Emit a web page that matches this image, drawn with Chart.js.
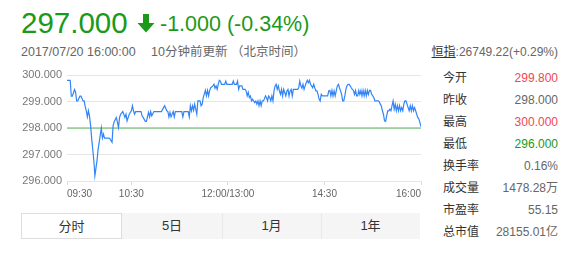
<!DOCTYPE html>
<html>
<head>
<meta charset="utf-8">
<script src="https://cdn.jsdelivr.net/npm/chart.js@4.4.0/dist/chart.umd.min.js"></script>
<style>
  html, body { margin: 0; padding: 0; background: #fff; width: 578px; height: 254px; overflow: hidden; }
  body { position: relative; font-family: "Liberation Sans", Arial, "Noto Sans CJK SC", sans-serif; }
  .t { position: absolute; white-space: nowrap; line-height: 1; }
  .price { left: 21px; top: 8px; font-size: 29.5px; color: #1a9a1a; }
  .chg { left: 160px; top: 14px; font-size: 21.5px; color: #1a9a1a; }
  .arrow { position: absolute; left: 137px; top: 14px; }
  .sub { top: 45.5px; font-size: 12.5px; color: #666; }
  .hsi { right: 20px; top: 46px; font-size: 12px; color: #666; }
  .hsi u { color: #333; text-decoration: underline; }
  .lab { left: 443px; font-size: 12px; color: #333; }
  .val { right: 20px; font-size: 12px; color: #666; }
  .red { color: #f0474f; }
  .grn { color: #1a9a1a; }
  #chartBox { position: absolute; left: 0; top: 60px; width: 430px; height: 146px; }
  .tabs { position: absolute; left: 21px; top: 213px; width: 399px; height: 26px; background: #f5f5f5; }
  .tab { position: absolute; top: 0; height: 26px; line-height: 26px; text-align: center; font-size: 13px; color: #333; }
  .tab.on { background: #fff; border: 1px solid #ddd; box-sizing: border-box; }
  .sep { position: absolute; top: 0; width: 1px; height: 26px; background: #e8e8e8; }
</style>
</head>
<body>
  <div class="t price">297.000</div>
  <svg class="arrow" width="18" height="19" viewBox="0 0 18 19">
    <polygon points="6,0 12,0 12,9 17.5,9 9,18.5 0.5,9 6,9" fill="#1a9a1a"/>
  </svg>
  <div class="t chg">-1.000 (-0.34%)</div>
  <div class="t sub" style="left:21px">2017/07/20 16:00:00</div>
  <div class="t sub" style="left:151px">10分钟前更新 （北京时间）</div>
  <div class="t hsi"><u>恒指</u>:26749.22(+0.29%)</div>

  <div id="stats"></div>

  <div id="chartBox"><canvas id="c" width="430" height="146"></canvas></div>

  <div class="tabs">
    <div class="tab on" style="left:0;width:101px;">分时</div>
    <div class="tab" style="left:101px;width:100px;">5日</div>
    <div class="sep" style="left:201px"></div>
    <div class="tab" style="left:201px;width:99px;">1月</div>
    <div class="sep" style="left:300px"></div>
    <div class="tab" style="left:300px;width:99px;">1年</div>
  </div>

<script>
// Intraday session: minutes elapsed since 09:30 (lunch break removed, 330 minutes in total)
const minutes = [
  0, 3, 4, 5, 7, 8, 9, 10, 12, 13, 15, 16, 17, 18, 19, 20, 21, 22, 23, 24,
  25, 26, 28, 29, 30, 32, 33, 34, 35, 39, 40, 42, 43, 44, 46, 47, 48, 49, 50,
  52, 54, 55, 56, 58, 60, 61, 62, 63, 64, 69, 70, 71, 73, 74, 76, 77, 78, 79, 81,
  88, 91, 93, 94, 95, 96, 97, 99, 100, 101, 107,
  108, 109, 113, 114, 115, 116, 117, 118, 119, 120, 121, 122, 124, 125, 126, 127,
  129, 130, 131, 132, 133, 134, 136, 137, 138, 139, 140, 141, 142, 143, 144, 147,
  148, 149, 154, 155, 156, 158, 159, 160,
  161, 163, 164, 166, 167, 168, 169, 170, 171, 172, 173, 174, 175, 176, 177, 178,
  179, 180, 181, 182, 183, 184, 185, 186, 187, 188, 189, 190, 191, 192, 193, 194,
  195, 196, 197, 198, 199, 200, 201, 202, 203, 204, 205, 206, 207, 208, 209, 210, 211,
  212, 214, 215, 216, 217, 218, 219, 220, 221, 222, 223, 224, 225, 226, 227, 228,
  229, 230, 231, 232, 233, 234, 235, 236, 237, 238, 243, 244, 245, 246, 247, 248,
  249, 250, 251, 252, 253, 254, 255, 256, 257, 258, 259, 260, 261, 262, 263, 264,
  265, 266,
  267, 268, 269, 270, 271, 272, 273, 274, 275, 276, 277, 278, 279, 280, 281, 282,
  283, 284, 285, 286, 287, 288, 290, 291, 292, 293, 294, 295, 296, 297, 298, 299,
  300, 301, 302, 303, 304, 305, 306, 307, 308, 309, 310, 311, 312, 313, 314, 315,
  316, 317, 318, 319, 320, 321, 322, 323, 324, 325, 326, 327, 328, 329, 330
];

// Last price at each of those minutes
const prices = [
  299.80, 299.80, 299.20, 299.20, 299.45, 299.35, 299.02, 299.02, 299.20, 299.20,
  299.02, 299.02, 298.80, 298.65, 298.42, 298.65, 298.45, 298.09, 297.60, 297.20,
  296.78, 296.20, 296.78, 297.20, 297.46, 298.00, 297.62, 297.77, 297.62, 297.62,
  297.60, 297.46, 298.09, 298.24, 298.40, 298.22, 298.02, 298.40, 298.52,
  298.62, 298.40, 298.52, 298.27, 298.52, 298.65, 298.84, 298.65, 298.52, 298.62,
  298.62, 298.46, 298.40, 298.25, 298.25, 298.59, 298.42, 298.62, 298.46, 298.62,
  298.62, 298.84, 298.65, 298.62, 298.42, 298.59, 298.42, 298.62, 298.42, 298.62, 298.62,
  298.42, 298.62, 298.62, 298.42, 298.84, 298.65, 298.84, 298.67, 298.90, 298.71,
  298.52, 299.02, 299.02, 298.84, 298.90, 299.15,
  299.42, 299.21, 299.42, 299.21, 299.42, 299.52, 299.59, 299.65, 299.50, 299.59,
  299.46, 299.65, 299.80, 299.77, 299.65, 299.65,
  299.77, 299.65, 299.65, 299.77, 299.65, 299.65, 299.77, 299.46,
  299.59, 299.59, 299.46, 299.46, 299.40, 299.21, 299.34, 299.15, 299.21, 299.02,
  299.09, 299.02, 298.96, 299.02, 298.90, 299.02,
  298.84, 299.02, 298.84, 299.02, 299.02, 299.09, 299.21, 299.15, 299.02, 299.21,
  299.15, 299.02, 299.21, 299.02, 299.40, 299.59,
  299.65, 299.46, 299.59, 299.40, 299.27, 299.46, 299.21, 299.46, 299.34, 299.21,
  299.40, 299.46, 299.21, 299.40, 299.46, 299.21, 299.46,
  299.46, 299.46, 299.46, 299.52, 299.77, 299.59, 299.50, 299.65, 299.46, 299.59,
  299.71, 299.80, 299.71, 299.80, 299.65, 299.59,
  299.52, 299.65, 299.52, 299.40, 299.40, 299.27, 299.09, 299.02, 299.27, 299.21,
  299.21, 299.40, 299.42, 299.21, 299.42, 299.21,
  299.40, 299.21, 299.40, 299.59, 299.65, 299.52, 299.40, 299.27, 299.02, 299.02,
  299.21, 299.46, 299.59, 299.65, 299.65, 299.59,
  299.52, 299.46,
  299.42, 299.27, 299.42, 299.21, 299.21, 299.42, 299.27, 299.42, 299.21, 299.42,
  299.21, 299.42, 299.21, 299.42, 299.27, 299.42,
  299.42, 299.27, 299.21, 299.15, 299.02, 299.02, 299.02, 299.00, 298.90, 298.84,
  298.65, 298.52, 298.27, 298.25, 298.46, 298.65,
  298.65, 298.71, 298.65, 298.84, 299.02, 298.71, 298.90, 298.65, 298.84, 298.65,
  298.84, 298.65, 298.77, 298.65, 298.90, 299.02,
  299.02, 298.90, 298.77, 298.65, 298.84, 298.65, 298.84, 298.65, 298.77, 298.65,
  298.52, 298.40, 298.34, 298.21, 298.05
];

const prevClose = 298.000;

// Axis ticks
const timeTicks = [0, 60, 150, 240, 330];
const timeLabels = ['09:30', '10:30', '12:00/13:00', '14:30', '16:00'];
const priceTicks = [296, 297, 298, 299, 300];

// Quote panel on the right
const statNames = ['今开', '昨收', '最高', '最低', '换手率', '成交量', '市盈率', '总市值'];
const statValues = ['299.800', '298.000', '300.000', '296.000', '0.16%', '1478.28万', '55.15', '28155.01亿'];
const statTone = ['red', '', 'red', 'grn', '', '', '', ''];

const stats = document.getElementById('stats');
statNames.forEach((name, i) => {
  const top = 72 + i * 22;
  const l = document.createElement('div');
  l.className = 't lab';
  l.style.top = top + 'px';
  l.textContent = name;
  const v = document.createElement('div');
  v.className = 't val ' + statTone[i];
  v.style.top = top + 'px';
  v.textContent = statValues[i];
  stats.appendChild(l);
  stats.appendChild(v);
});

const pricePoints = minutes.map((m, i) => ({ x: m, y: prices[i] }));
const closePoints = [{ x: 0, y: prevClose }, { x: 330, y: prevClose }];

new Chart(document.getElementById('c'), {
  type: 'line',
  data: {
    datasets: [
      {
        data: pricePoints,
        borderColor: '#3385f5',
        borderWidth: 1.2,
        pointRadius: 0,
        tension: 0,
        fill: false
      },
      {
        data: closePoints,
        borderColor: '#55b955',
        borderWidth: 1,
        pointRadius: 0,
        fill: false
      }
    ]
  },
  options: {
    responsive: false,
    animation: false,
    devicePixelRatio: 1,
    layout: { padding: { top: 15, right: 9, left: 0, bottom: 0 } },
    plugins: { legend: { display: false }, tooltip: { enabled: false } },
    scales: {
      x: {
        type: 'linear',
        min: 0,
        max: 330,
        afterBuildTicks: (s) => { s.ticks = timeTicks.map(v => ({ value: v })); },
        afterFit: (s) => { s.height = 25; },
        ticks: {
          autoSkip: false,
          maxRotation: 0,
          align: 'inner',
          padding: 3,
          color: '#666',
          font: { family: '"Liberation Sans", Arial, sans-serif', size: 10 },
          callback: (v) => timeLabels[timeTicks.indexOf(v)]
        },
        grid: { drawOnChartArea: false, drawTicks: true, tickLength: 4, color: '#dcdcdc' },
        border: { display: true, color: '#e6e6e6' }
      },
      y: {
        min: 296,
        max: 300,
        afterBuildTicks: (s) => { s.ticks = priceTicks.map(v => ({ value: v })); },
        afterFit: (s) => { s.width = 67; },
        ticks: {
          padding: 5,
          color: '#777',
          font: { family: '"Liberation Sans", Arial, sans-serif', size: 11 },
          callback: (v) => Number(v).toFixed(3)
        },
        grid: { color: '#e6e6e6', drawTicks: false },
        border: { display: false }
      }
    }
  }
});
</script>
</body>
</html>
